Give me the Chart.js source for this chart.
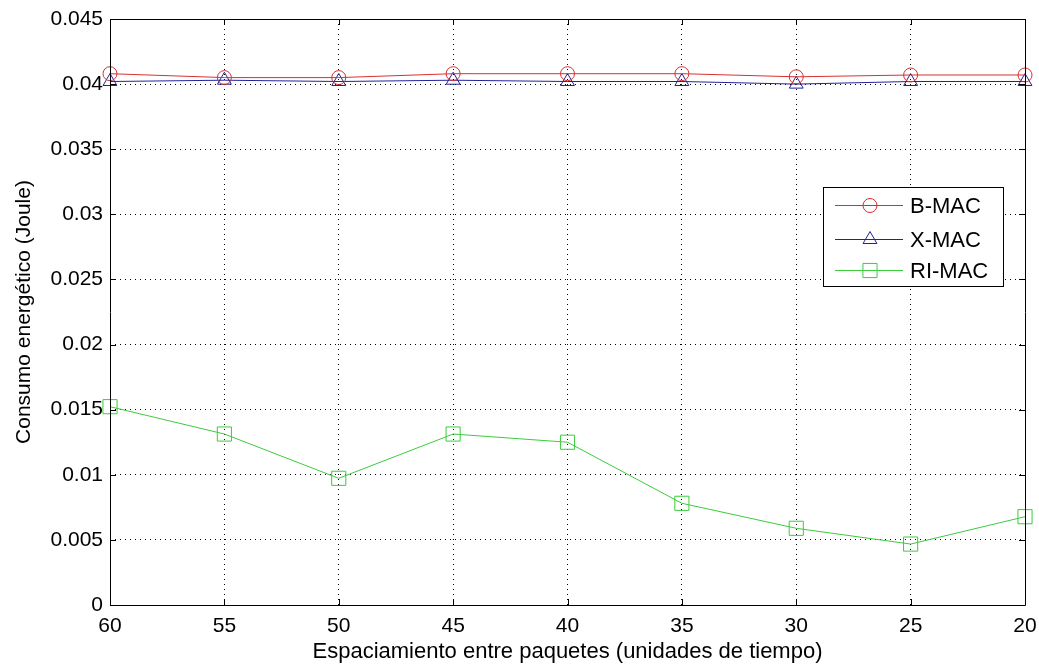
<!DOCTYPE html>
<html>
<head>
<meta charset="utf-8">
<script src="https://cdn.jsdelivr.net/npm/chart.js@4.4.0/dist/chart.umd.min.js"></script>
<style>
  html, body { margin: 0; padding: 0; background: #fff; }
  #wrap { width: 1039px; height: 669px; }
</style>
</head>
<body>
<div id="wrap"><canvas id="energyChart" width="1039" height="669"></canvas></div>
<script>
// Spacing between packets (x axis, reversed: 60 -> 20)
const spacing = ['60', '55', '50', '45', '40', '35', '30', '25', '20'];

// Energy consumption (Joule)
const bmac  = [0.0408, 0.0405, 0.0405, 0.0408, 0.0408, 0.0408, 0.04056, 0.0407, 0.0407];
const xmac  = [0.0402, 0.0403, 0.0402, 0.0403, 0.0402, 0.0402, 0.0400, 0.0402, 0.0402];
const rimac = [0.01523, 0.01313, 0.00973, 0.01313, 0.0125, 0.00781, 0.00589, 0.00468, 0.00678];

const FONT = 'Liberation Sans, Arial, sans-serif';

// box around the plot and MATLAB-style inner ticks
const axesBox = {
    id: 'axesBox',
    afterDatasetsDraw(chart) {
        const { ctx, chartArea: a, scales } = chart;
        ctx.save();
        ctx.strokeStyle = '#000';
        ctx.lineWidth = 1;
        ctx.beginPath();
        ctx.rect(a.left + 0.5, a.top + 0.5, a.right - a.left, a.bottom - a.top);
        scales.x.ticks.forEach((t, i) => {
            const px = Math.round(scales.x.getPixelForTick(i)) + 0.5;
            ctx.moveTo(px, a.bottom); ctx.lineTo(px, a.bottom - 6);
            ctx.moveTo(px, a.top); ctx.lineTo(px, a.top + 6);
        });
        scales.y.ticks.forEach((t, i) => {
            const py = Math.round(scales.y.getPixelForTick(i)) + 0.5;
            ctx.moveTo(a.left, py); ctx.lineTo(a.left + 6, py);
            ctx.moveTo(a.right, py); ctx.lineTo(a.right - 6, py);
        });
        ctx.stroke();
        ctx.restore();
    }
};

// legend drawn inside the plot like MATLAB's
const insideLegend = {
    id: 'insideLegend',
    afterDraw(chart) {
        const { ctx, chartArea: a } = chart;
        const w = 180, h = 99;
        const x0 = a.right - 202, y0 = a.top + 168;
        const rows = [18, 52, 83];
        ctx.save();
        ctx.fillStyle = '#fff';
        ctx.fillRect(x0, y0, w, h);
        ctx.strokeStyle = '#000';
        ctx.lineWidth = 1;
        ctx.strokeRect(x0 + 0.5, y0 + 0.5, w, h);
        ctx.font = '22px ' + FONT;
        ctx.textBaseline = 'middle';
        chart.data.datasets.forEach((ds, i) => {
            const y = y0 + rows[i] + 0.5;
            ctx.strokeStyle = ds.borderColor;
            ctx.lineWidth = 1;
            ctx.beginPath();
            ctx.moveTo(x0 + 12, y); ctx.lineTo(x0 + 80, y);
            ctx.stroke();
            ctx.fillStyle = 'rgba(0,0,0,0)';
            Chart.helpers.drawPoint(ctx, {
                pointStyle: ds.pointStyle, radius: ds.pointRadius, borderWidth: 1
            }, x0 + 47, y);
            ctx.fillStyle = '#000';
            ctx.fillText(ds.label, x0 + 87, y + 1);
        });
        ctx.restore();
    }
};

new Chart(document.getElementById('energyChart'), {
    type: 'line',
    data: {
        labels: spacing,
        datasets: [{
            label: 'B-MAC',
            data: bmac,
            borderColor: '#d83030',
            pointStyle: 'circle',
            pointRadius: 7,
            pointBorderColor: '#d83030',
            pointBackgroundColor: 'rgba(0,0,0,0)',
            borderWidth: 1,
            pointBorderWidth: 1
        }, {
            label: 'X-MAC',
            data: xmac,
            borderColor: '#22229a',
            pointStyle: 'triangle',
            pointRadius: 8,
            pointBorderColor: '#22229a',
            pointBackgroundColor: 'rgba(0,0,0,0)',
            borderWidth: 1,
            pointBorderWidth: 1
        }, {
            label: 'RI-MAC',
            data: rimac,
            borderColor: '#3ccc3c',
            pointStyle: 'rect',
            pointRadius: 10,
            pointBorderColor: '#3ccc3c',
            pointBackgroundColor: 'rgba(0,0,0,0)',
            borderWidth: 1,
            pointBorderWidth: 1
        }]
    },
    options: {
        responsive: false,
        animation: false,
        layout: { padding: { top: 19, right: 14, left: 0, bottom: 0 } },
        plugins: {
            legend: { display: false },
            tooltip: { enabled: false }
        },
        scales: {
            x: {
                type: 'category',
                offset: false,
                afterFit: (s) => { s.height = 64; s.paddingLeft = 0; s.paddingRight = 0; },
                grid: { color: '#000', lineWidth: 1, drawTicks: false },
                border: { display: false, dash: [1, 4] },
                ticks: { color: '#000', padding: 9, maxRotation: 0, font: { family: FONT, size: 21 } },
                title: {
                    display: true,
                    text: 'Espaciamiento entre paquetes (unidades de tiempo)',
                    color: '#000',
                    font: { family: FONT, size: 22 },
                    padding: { top: 2, bottom: 4 }
                }
            },
            y: {
                min: 0,
                max: 0.045,
                afterFit: (s) => { s.width = 110; s.paddingTop = 0; s.paddingBottom = 0; },
                grid: { color: '#000', lineWidth: 1, drawTicks: false },
                border: { display: false, dash: [1, 4] },
                ticks: {
                    stepSize: 0.005,
                    color: '#000',
                    padding: 7,
                    font: { family: FONT, size: 21 },
                    callback: (v) => String(Number(v.toFixed(3)))
                },
                title: {
                    display: true,
                    text: 'Consumo energético (Joule)',
                    color: '#000',
                    font: { family: FONT, size: 21 },
                    padding: { top: 12, bottom: 4 }
                }
            }
        }
    },
    plugins: [axesBox, insideLegend]
});
</script>
</body>
</html>
